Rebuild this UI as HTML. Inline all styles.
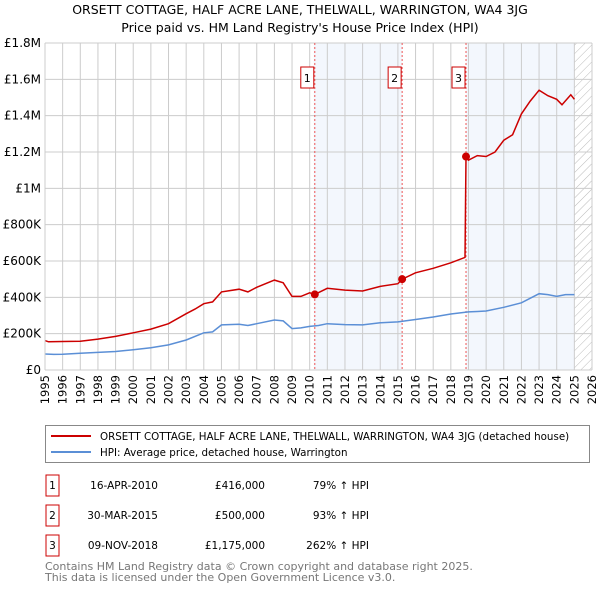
<!DOCTYPE html>
<html><head><meta charset="utf-8"><style>
body{margin:0;width:600px;height:590px;background:#fff;font-family:"Liberation Sans","DejaVu Sans",sans-serif;overflow:hidden}
svg text{font-family:"DejaVu Sans","Liberation Sans",sans-serif}
</style></head><body>
<svg id="c" width="600" height="590" xmlns="http://www.w3.org/2000/svg">
<text x="300" y="14" text-anchor="middle" font-size="12.5">ORSETT COTTAGE, HALF ACRE LANE, THELWALL, WARRINGTON, WA4 3JG</text>
<text x="300" y="32" text-anchor="middle" font-size="12.5">Price paid vs. HM Land Registry's House Price Index (HPI)</text>
<defs><pattern id="h" width="6" height="6" patternUnits="userSpaceOnUse" patternTransform="rotate(45)"><line x1="0" y1="0" x2="0" y2="6" stroke="#bbb" stroke-width="1"/></pattern></defs>
<g id="g"></g>
<rect x="45.5" y="425.5" width="544" height="37" fill="#fff" stroke="#888"/>
<line x1="51" y1="436" x2="91" y2="436" stroke="#cc0000" stroke-width="2"/>
<text x="100" y="440" font-size="10.3">ORSETT COTTAGE, HALF ACRE LANE, THELWALL, WARRINGTON, WA4 3JG (detached house)</text>
<line x1="51" y1="452" x2="91" y2="452" stroke="#5b8fd6" stroke-width="2"/>
<text x="100" y="456" font-size="10.3">HPI: Average price, detached house, Warrington</text>
<g font-size="10.5" id="tbl"></g>
<text x="45" y="570" font-size="11" fill="#777">Contains HM Land Registry data © Crown copyright and database right 2025.</text>
<text x="45" y="581" font-size="11" fill="#777">This data is licensed under the Open Government Licence v3.0.</text>
</svg>
<script>
const hpiYears=[1995,1995.5,1996,1997,1998,1999,2000,2001,2002,2003,2004,2004.5,2005,2006,2006.5,2007,2008,2008.5,2009,2009.5,2010,2010.5,2011,2012,2013,2014,2015,2016,2017,2018,2019,2019.5,2020,2021,2022,2023,2023.5,2024,2024.5,2025];
const hpiValues=[88,86,87,92,97,102,112,122,138,165,205,210,248,252,245,255,275,270,228,232,240,245,255,250,248,260,265,278,292,308,320,322,325,345,370,420,415,405,415,415];
const priceYears=[1995,1995.2,1996,1997,1998,1999,2000,2001,2002,2003,2003.5,2004,2004.5,2005,2006,2006.5,2007,2008,2008.5,2009,2009.5,2010,2010.29,2011,2012,2013,2014,2015,2015.24,2016,2017,2018,2018.8,2018.86,2019,2019.5,2020,2020.5,2021,2021.5,2022,2022.5,2023,2023.5,2024,2024.3,2024.8,2025];
const priceValues=[162,155,157,158,170,185,205,225,255,310,335,365,375,430,445,430,455,495,480,405,405,425,416,450,440,435,460,475,500,535,560,590,620,1175,1155,1180,1175,1200,1265,1295,1410,1480,1540,1510,1490,1460,1515,1490];
const saleYears=[2010.29,2015.24,2018.86];
const saleValues=[416,500,1175];
const saleLabels=["1","2","3"];
const saleDates=["16-APR-2010","30-MAR-2015","09-NOV-2018"];
const salePrices=["£416,000","£500,000","£1,175,000"];
const saleHpi=["79% ↑ HPI","93% ↑ HPI","262% ↑ HPI"];
const yTicks=[0,200,400,600,800,1000,1200,1400,1600,1800];
const yTickLabels=["£0","£200K","£400K","£600K","£800K","£1M","£1.2M","£1.4M","£1.6M","£1.8M"];
const X0=45,X1=592,Y0=370,Y1=43;
const x=y=>X0+(y-1995)/31*(X1-X0);
const yv=v=>Y0-v/1800*(Y0-Y1);
const NS="http://www.w3.org/2000/svg";
const g=document.getElementById('g');
function mk(t,a,p){const e=document.createElementNS(NS,t);for(const k in a)e.setAttribute(k,a[k]);(p||g).appendChild(e);return e;}
let e;
e=mk('rect',{x:x(2010.29)-1,y:Y1,width:x(2015.24)-x(2010.29)+1,height:Y0-Y1,fill:'#eef3fc',opacity:0.7});


e=mk('rect',{x:x(2018.86),y:Y1,width:x(2025)-x(2018.86),height:Y0-Y1,fill:'#eef3fc',opacity:0.7});


e=mk('rect',{x:x(2025),y:Y1,width:X1-x(2025),height:Y0-Y1,fill:'url(#h)'});


for(let yr=1995;yr<=2026;yr++){
 e=mk('line',{x1:x(yr),x2:x(yr),y1:Y1,y2:Y0,stroke:'#ccc','stroke-width':1});
 
 
 e=mk('text',{x:0,y:0,'font-size':11.5,'text-anchor':'end',transform:`translate(${x(yr)+4},${Y0+5}) rotate(-90)`});
 e.textContent=yr;
 
 
}
yTicks.forEach((v,i)=>{
 e=mk('line',{x1:X0,x2:X1,y1:yv(v),y2:yv(v),stroke:'#ccc','stroke-width':1});
 
 
 e=mk('text',{x:X0-4,y:yv(v)+4,'font-size':12,'text-anchor':'end'});
 e.textContent=yTickLabels[i];
 
 
});
saleYears.forEach((s,i)=>{
 e=mk('line',{x1:x(s),x2:x(s),y1:Y1,y2:Y0,stroke:'#e55','stroke-width':1,'stroke-dasharray':'2,2'});
 
 
});
function path(xs,vs){return xs.map((t,i)=>(i?'L':'M')+x(t).toFixed(1)+','+yv(vs[i]).toFixed(1)).join('');}
e=mk('path',{d:path(hpiYears,hpiValues),fill:'none',stroke:'#5b8fd6','stroke-width':1.5});


e=mk('path',{d:path(priceYears,priceValues),fill:'none',stroke:'#cc0000','stroke-width':1.5});


e=mk('line',{x1:X0,x2:X0,y1:Y1,y2:Y0,stroke:'#ccc'});


saleYears.forEach((s,i)=>{
 e=mk('circle',{cx:x(s),cy:yv(saleValues[i]),r:4,fill:'#cc0000'});
 
 
 e=mk('rect',{x:x(s)-14,y:67,width:13,height:21,fill:'#fff',stroke:'#cc0000'});
 
 
 e=mk('text',{x:x(s)-7.5,y:82,'font-size':11,'text-anchor':'middle'});
 e.textContent=saleLabels[i];
 
 
});
const tb=document.getElementById('tbl');
saleLabels.forEach((l,i)=>{
 const ry=475+i*30;
 e=mk('rect',{x:46,y:ry,width:13,height:21,fill:'#fff',stroke:'#cc0000'},tb);
 
 
 e=mk('text',{x:52.5,y:ry+14,'text-anchor':'middle'},tb);e.textContent=l;
 
 
 e=mk('text',{x:158,y:ry+14,'text-anchor':'end'},tb);e.textContent=saleDates[i];
 
 
 e=mk('text',{x:265,y:ry+14,'text-anchor':'end'},tb);e.textContent=salePrices[i];
 
 
 e=mk('text',{x:369,y:ry+14,'text-anchor':'end'},tb);e.textContent=saleHpi[i];
 
 
});
</script>
</body></html>
